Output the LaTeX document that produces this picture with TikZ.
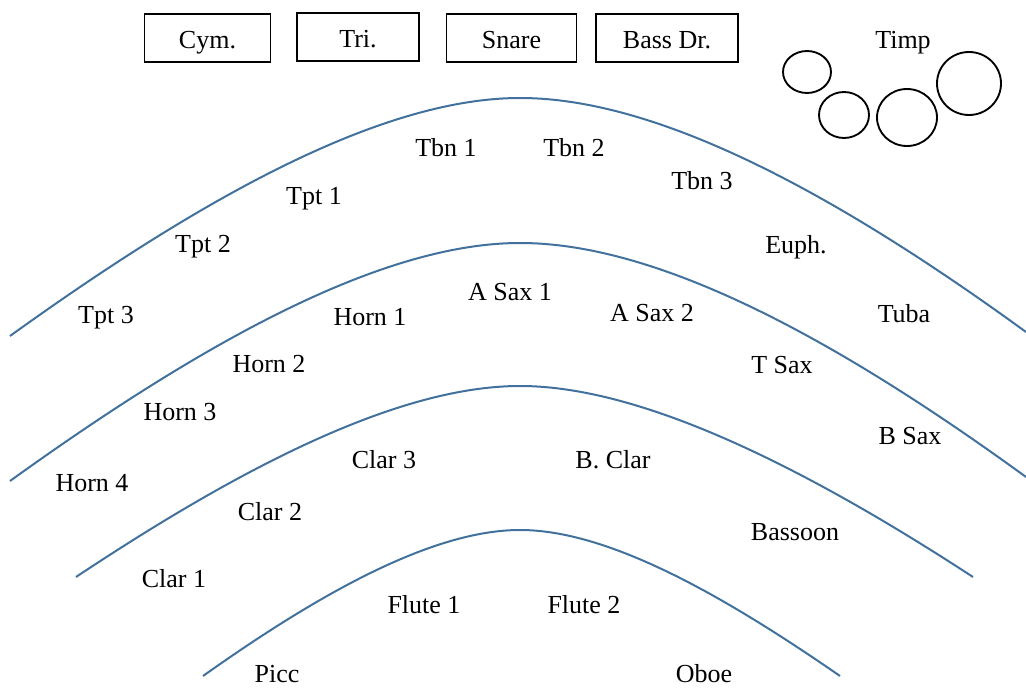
\documentclass[tikz,border=0pt]{standalone}
\usepackage{fontspec}
\setmainfont{Liberation Serif}
\usetikzlibrary{positioning}
\definecolor{ink}{HTML}{000000}
\definecolor{rowline}{HTML}{41719C}
\tikzset{
  part/.style={font=\fontsize{19.5}{22}\selectfont, text=ink, inner sep=0pt,
               text height=15.6pt, text depth=2.7pt},
  perc/.style={draw=ink, line width=0.9pt, minimum height=36pt, inner sep=2pt,
               text height=17.4pt, text depth=0.9pt,
               font=\fontsize{19.5}{22}\selectfont, text=ink},
  row/.style={draw=rowline, line width=1.5pt},
  kettle/.style={draw=ink, line width=1.4pt},
}
\begin{document}
\begin{tikzpicture}[x=0.75pt, y=-0.75pt]
    \useasboundingbox (0,0) rectangle (1026,688);
    % percussion along the back
    \node[perc, minimum width=95pt]   (cym)   at (207.5,38) {Cym.};
    \node[perc, minimum width=91.5pt] (tri)   at (358,37)   {Tri.};
    \node[perc, minimum width=97pt]   (snare) at (511.5,38) {Snare};
    \node[perc, minimum width=106.5pt] (bass) at (667,38)   {Bass Dr.};
    \node[part] (timp) at (903,40) {Timp};
    \draw[kettle] (807,72) ellipse [x radius=24, y radius=21];
    \draw[kettle] (844,115) ellipse [x radius=25, y radius=23];
    \draw[kettle] (907,117.5) ellipse [x radius=30, y radius=28.5];
    \draw[kettle] (969,83.5) ellipse [x radius=32, y radius=31.5];
    % rows, back to front
    \draw[row] (10,336) .. controls (199,200) and (380,98) .. (520,98)
               .. controls (660,98) and (839,196) .. (1026,332);
    \draw[row] (10,481) .. controls (199,345) and (380,243) .. (520,243)
               .. controls (660,243) and (839,341) .. (1026,477);
    \draw[row] (76,577) .. controls (240,468) and (398,386) .. (520,386)
               .. controls (642,386) and (806,468) .. (973,577);
    \draw[row] (203,676) .. controls (320,593) and (433,530) .. (520,530)
               .. controls (607,530) and (720,593) .. (840,676);
    % back row
    \node[part] (tpt3) at (106,315) {Tpt 3};
    \node[part] (tpt2) at (203,244) {Tpt 2};
    \node[part] (tpt1) at (314,196) {Tpt 1};
    \node[part] (tbn1) at (446,148) {Tbn 1};
    \node[part] (tbn2) at (574,148) {Tbn 2};
    \node[part] (tbn3) at (702,181) {Tbn 3};
    \node[part] (euph) at (796,245) {Euph.};
    \node[part] (tuba) at (904,314) {Tuba};
    % third row
    \node[part] (horn4) at (92,483)  {Horn 4};
    \node[part] (horn3) at (180,412) {Horn 3};
    \node[part] (horn2) at (269,364) {Horn 2};
    \node[part] (horn1) at (370,317) {Horn 1};
    \node[part] (asax1) at (510,292) {A Sax 1};
    \node[part] (asax2) at (652,313) {A Sax 2};
    \node[part] (tsax)  at (782,365) {T Sax};
    \node[part] (bsax)  at (910,436) {B Sax};
    % second row
    \node[part] (clar1) at (174,579) {Clar 1};
    \node[part] (clar2) at (270,512) {Clar 2};
    \node[part] (clar3) at (384,460) {Clar 3};
    \node[part] (bclar) at (613,460) {B. Clar};
    \node[part] (bsn)   at (795,532) {Bassoon};
    % front row
    \node[part] (picc)  at (277,674) {Picc};
    \node[part] (fl1)   at (424,605) {Flute 1};
    \node[part] (fl2)   at (584,605) {Flute 2};
    \node[part] (oboe)  at (704,674) {Oboe};
\end{tikzpicture}
\end{document}
